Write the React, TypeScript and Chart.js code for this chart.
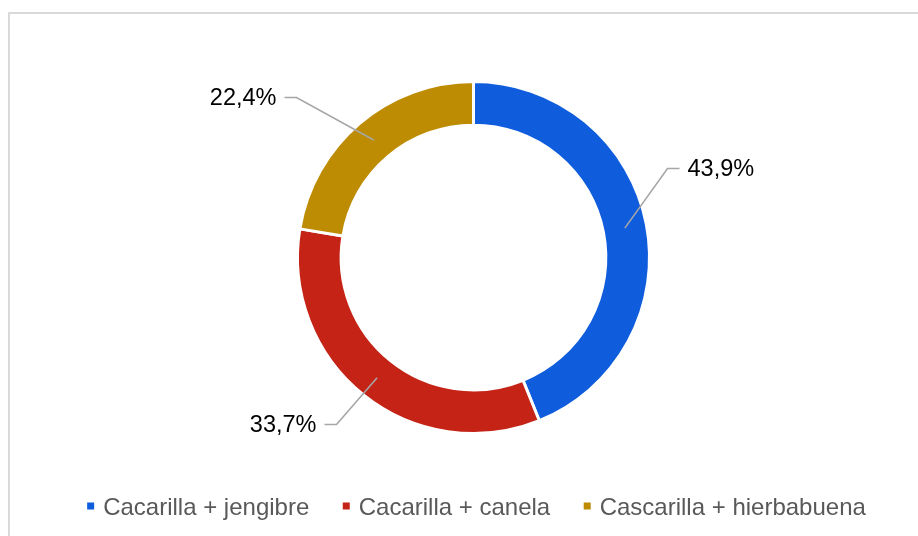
import React, { useEffect, useRef } from "react";
import { Chart, registerables } from "chart.js";

Chart.register(...registerables);

const categories = ["Cacarilla + jengibre", "Cacarilla + canela", "Cascarilla + hierbabuena"];
const shares = [43.9, 33.7, 22.4];
const sliceColors = ["#0F5CDD", "#C42316", "#BE8C02"];

const W = 918;
const H = 536;

// label elbow offsets from the doughnut centre, and text alignment
const labelPlacement = [
  { dx: 194, dy: -89, dir: 1 },
  { dx: -137, dy: 167, dir: -1 },
  { dx: -177, dy: -160, dir: -1 },
];

const fmt = (v: number) => v.toFixed(1).replace(".", ",") + "%";

const decorPlugin = {
  id: "decor",
  beforeDraw(chart: any) {
    const ctx = chart.ctx;
    ctx.save();
    ctx.strokeStyle = "#D9D9D9";
    ctx.lineWidth = 2;
    ctx.beginPath();
    ctx.moveTo(9, H + 5);
    ctx.lineTo(9, 13);
    ctx.lineTo(W + 5, 13);
    ctx.stroke();
    ctx.restore();
  },
  afterDraw(chart: any) {
    const ctx = chart.ctx;
    const meta = chart.getDatasetMeta(0);
    ctx.save();
    meta.data.forEach((arc: any, i: number) => {
      const p = arc.getProps(["x", "y", "startAngle", "endAngle", "innerRadius", "outerRadius"], true);
      const mid = (p.startAngle + p.endAngle) / 2;
      const r = (p.innerRadius + p.outerRadius) / 2;
      const sx = p.x + Math.cos(mid) * r;
      const sy = p.y + Math.sin(mid) * r;
      const pl = labelPlacement[i];
      const ex = p.x + pl.dx;
      const ey = p.y + pl.dy;
      const hx = ex + pl.dir * 12;
      ctx.strokeStyle = "#A6A6A6";
      ctx.lineWidth = 1.6;
      ctx.beginPath();
      ctx.moveTo(sx, sy);
      ctx.lineTo(ex, ey);
      ctx.lineTo(hx, ey);
      ctx.stroke();
      ctx.fillStyle = "#000000";
      ctx.font = '23.5px "Liberation Sans", Arial, sans-serif';
      ctx.textBaseline = "middle";
      ctx.textAlign = pl.dir > 0 ? "left" : "right";
      ctx.fillText(fmt(shares[i]), hx + pl.dir * 8, ey + 1.5);
    });

    // legend
    ctx.font = '24px "Liberation Sans", Arial, sans-serif';
    ctx.textBaseline = "alphabetic";
    ctx.textAlign = "left";
    const box = 7;
    const gapBox = 9;
    const gapItem = 33.5;
    const widths = categories.map((c) => ctx.measureText(c).width);
    const total = widths.reduce((a, w) => a + box + gapBox + w, 0) + gapItem * (categories.length - 1);
    let x = 476.5 - total / 2;
    const baseline = 515;
    categories.forEach((c, i) => {
      ctx.fillStyle = sliceColors[i];
      ctx.fillRect(x, 502.5, box, box);
      x += box + gapBox;
      ctx.fillStyle = "#595959";
      ctx.fillText(c, x, baseline);
      x += widths[i] + gapItem;
    });
    ctx.restore();
  },
};

export default function App() {
  const ref = useRef<HTMLCanvasElement | null>(null);
  useEffect(() => {
    if (!ref.current) return;
    const chart = new Chart(ref.current, {
      type: "doughnut",
      data: {
        labels: categories,
        datasets: [
          {
            data: shares,
            backgroundColor: sliceColors,
            borderColor: "#FFFFFF",
            borderWidth: 3,
            hoverOffset: 0,
          },
        ],
      },
      options: {
        animation: false,
        responsive: false,
        cutout: "75.2%",
        layout: { padding: { left: 296, right: 267, top: 80, bottom: 101 } },
        plugins: {
          legend: { display: false },
          tooltip: { enabled: false },
        },
      },
      plugins: [decorPlugin],
    });
    return () => chart.destroy();
  }, []);
  return (
    <div style={{ position: "fixed", left: 0, top: 0, width: W, height: H, overflow: "hidden", background: "#fff" }}>
      <canvas ref={ref} width={W} height={H} style={{ display: "block" }} />
    </div>
  );
}
